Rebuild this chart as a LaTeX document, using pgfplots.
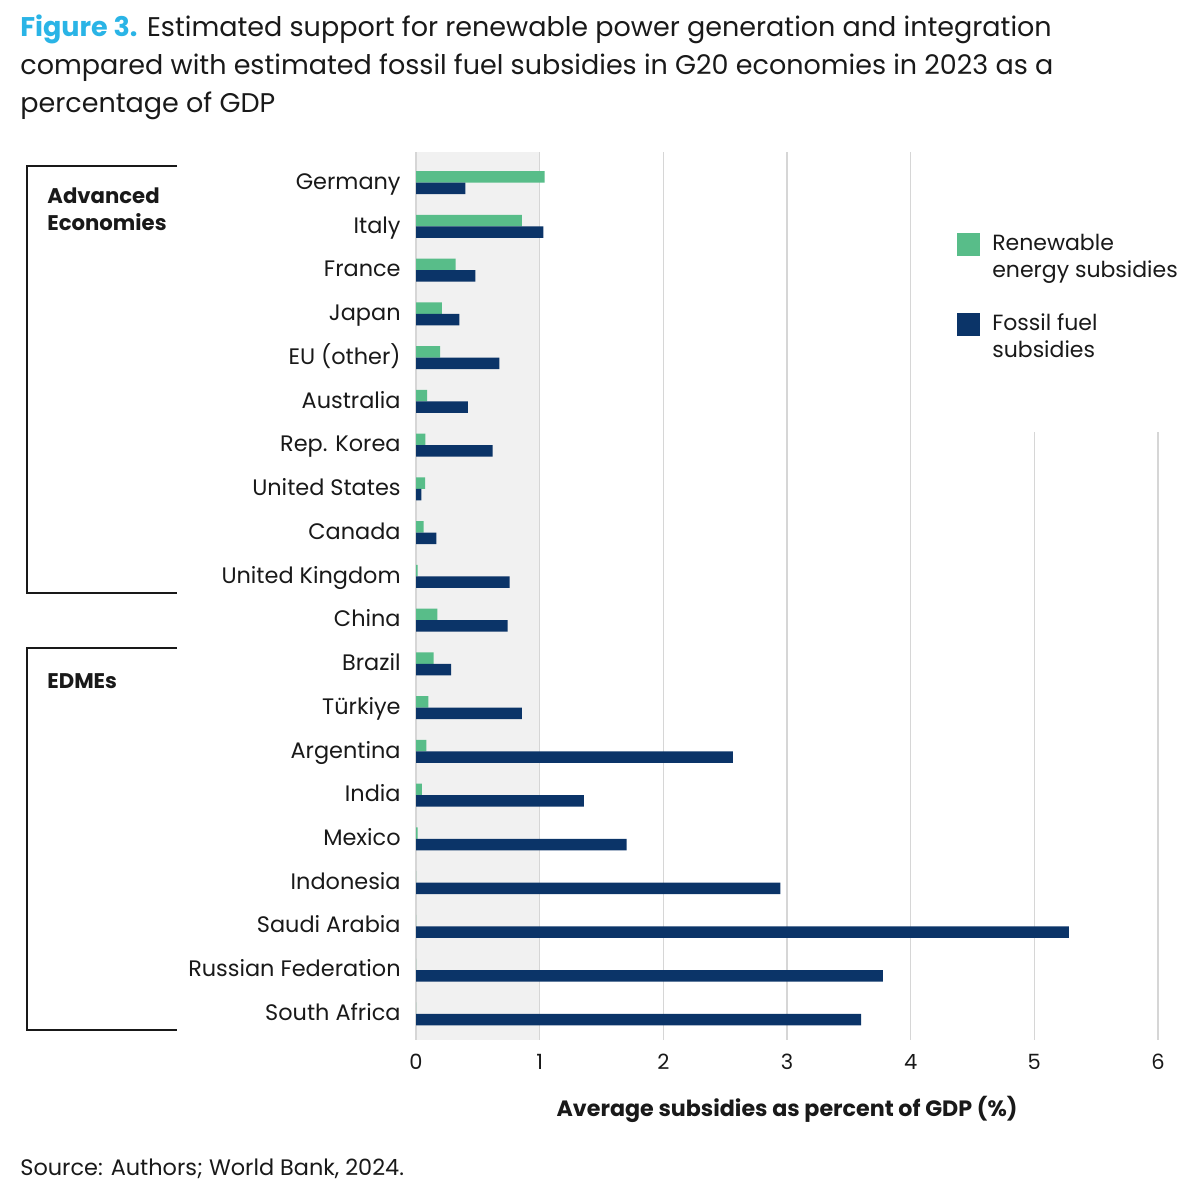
\documentclass[border=0pt]{standalone}
\usepackage{pgfplots}
\pgfplotsset{compat=1.18}
\usepackage{pgfplotstable}
\usepackage{fontspec}
\setmainfont{Poppins}
\definecolor{rengreen}{RGB}{88,189,137}
\definecolor{fosnavy}{RGB}{11,52,104}
\definecolor{bandgray}{RGB}{241,241,241}
\definecolor{gridgray}{RGB}{214,214,214}
\definecolor{titlecyan}{RGB}{42,180,230}
\definecolor{txt}{RGB}{25,25,25}
\pgfplotstableread{
idx ren fos
0 1.040 0.400
1 0.857 1.030
2 0.320 0.480
3 0.210 0.350
4 0.195 0.675
5 0.090 0.420
6 0.075 0.620
7 0.073 0.043
8 0.062 0.165
9 0.014 0.757
10 0.173 0.740
11 0.143 0.284
12 0.100 0.857
13 0.083 2.563
14 0.047 1.357
15 0.014 1.704
16 0.000 2.946
17 0.000 5.280
18 0.000 3.776
19 0.000 3.600
}\data
\begin{document}
\begin{tikzpicture}
\path (0pt,0pt) rectangle (600pt,-597.5pt);
\begin{axis}[
  set layers,
  at={(208pt,-520pt)}, anchor=south west,
  scale only axis, width=371pt, height=444pt,
  xmin=0, xmax=6, ymin=-0.7, ymax=19.6, y dir=reverse,
  clip=false,
  xtick={0,1,2,3,4,5,6},
  ytick={0,1,2,3,4,5,6,7,8,9,10,11,12,13,14,15,16,17,18,19},
  yticklabels={Germany,Italy,France,Japan,EU (other),Australia,Rep. Korea,United States,Canada,United Kingdom,China,Brazil,Türkiye,Argentina,India,Mexico,Indonesia,Saudi Arabia,Russian Federation,South Africa},
  xmajorgrids, grid style={color=gridgray, line width=0.75pt},
  axis line style={draw=none}, major tick length=0pt,
  /pgf/number format/assume math mode=true,
  xticklabel style={anchor=base, inner sep=0pt, yshift=-14.75pt, font=\fontsize{10.5}{12}\selectfont, text=txt},
  yticklabel style={anchor=base east, inner sep=0pt, xshift=-7.5pt, yshift=-3.35pt, font=\fontsize{11.2}{13}\selectfont, text=txt},
  xlabel={\bfseries Average subsidies as percent of GDP (\%)},
  xlabel style={at={(axis description cs:0.5,0)}, anchor=base, inner sep=0pt, yshift=-38pt, font=\fontsize{11.1}{12}\selectfont, text=txt},
  legend cell align=left,
  legend style={at={(axis description cs:0.729,0.909)}, anchor=north west, draw=none, fill=none, inner sep=0pt,
    font=\fontsize{11}{13.5}\selectfont, text=txt,
    cells={align=left}, column sep=6pt, row sep=16.5pt, nodes={inner sep=0pt}},
]
\addplot[fill=bandgray, draw=none, forget plot, on layer=axis background] coordinates {(0,-0.7) (1,-0.7) (1,19.6) (0,19.6)} -- cycle;
\addplot[fill=white, draw=none, forget plot] coordinates {(4.15,-0.75) (6.1,-0.75) (6.1,5.7) (4.15,5.7)} -- cycle;
\addplot[xbar, bar width=5.75pt, bar shift=0pt, draw=none, fill=rengreen,
  legend image code/.code={\fill[rengreen] (0pt,0.5pt) rectangle (11.5pt,12pt);}]
  table[x=ren, y expr=\thisrow{idx}-0.1315] {\data};
\addlegendentry{Renewable\\energy subsidies}
\addplot[xbar, bar width=5.75pt, bar shift=0pt, draw=none, fill=fosnavy,
  legend image code/.code={\fill[fosnavy] (0pt,0.5pt) rectangle (11.5pt,12pt);}]
  table[x=fos, y expr=\thisrow{idx}+0.1315] {\data};
\addlegendentry{Fossil fuel\\subsidies}
\end{axis}
\begin{scope}[x=0.5pt, y=-0.5pt]
\node[anchor=base west, inner sep=0pt, font=\fontsize{13.5}{16}\selectfont, text=txt] at (20,36) {\textcolor{titlecyan}{\bfseries Figure 3.} Estimated support for renewable power generation and integration};
\node[anchor=base west, inner sep=0pt, font=\fontsize{13.5}{16}\selectfont, text=txt] at (20,74) {compared with estimated fossil fuel subsidies in G20 economies in 2023 as a};
\node[anchor=base west, inner sep=0pt, font=\fontsize{13.5}{16}\selectfont, text=txt] at (20,112) {percentage of GDP};
\draw[line width=1.25pt, txt] (177,166) -- (27,166) -- (27,593) -- (177,593);
\draw[line width=1.25pt, txt] (177,648) -- (27,648) -- (27,1030) -- (177,1030);
\node[anchor=base west, inner sep=0pt, font=\bfseries\fontsize{10.6}{13}\selectfont, text=txt] at (47,203) {Advanced};
\node[anchor=base west, inner sep=0pt, font=\bfseries\fontsize{10.6}{13}\selectfont, text=txt] at (47,230) {Economies};
\node[anchor=base west, inner sep=0pt, font=\bfseries\fontsize{10.6}{13}\selectfont, text=txt] at (47,688) {EDMEs};
\node[anchor=base west, inner sep=0pt, font=\fontsize{11.2}{12}\selectfont, text=txt] at (20,1175) {Source: Authors; World Bank, 2024.};
\end{scope}
\end{tikzpicture}
\end{document}
